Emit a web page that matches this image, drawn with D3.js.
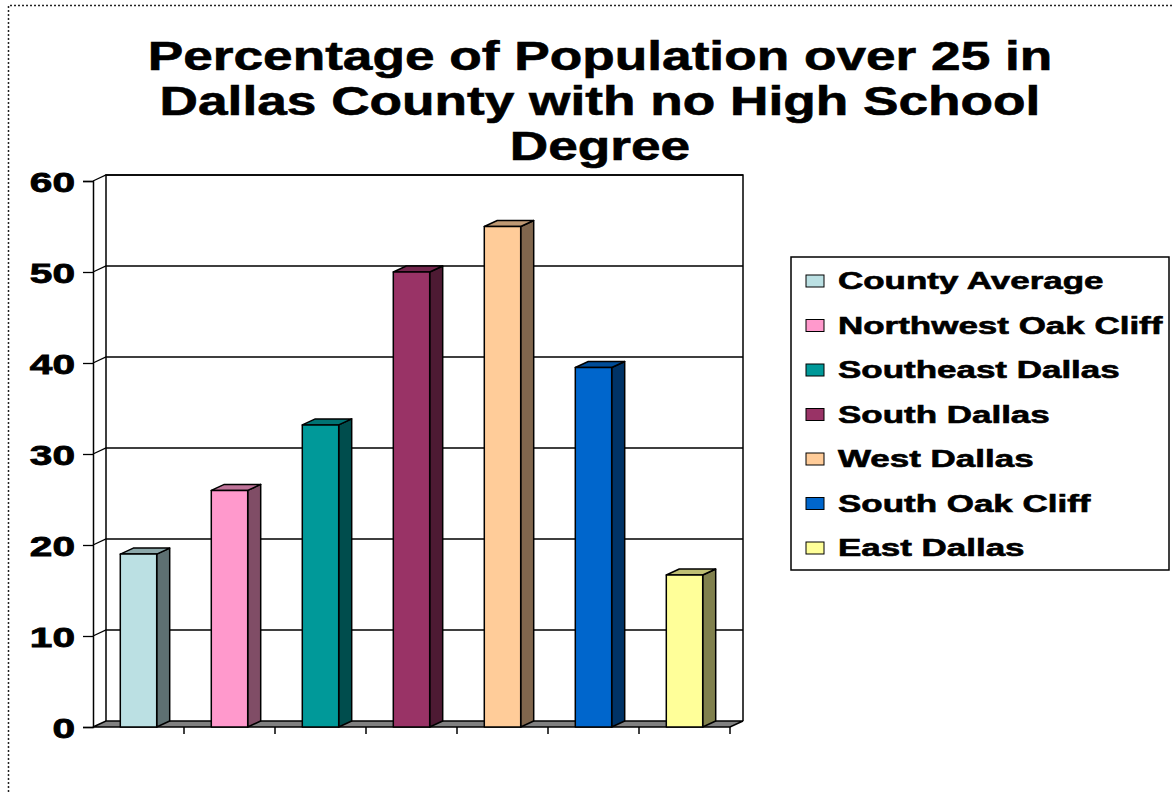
<!DOCTYPE html>
<html>
<head>
<meta charset="utf-8">
<script src="https://cdn.jsdelivr.net/npm/d3@7"></script>
<style>
  body { margin: 0; background: #fff; }
  svg text { font-family: "Liberation Sans", Arial, sans-serif; font-weight: bold; fill: #000; }
</style>
</head>
<body>
<div id="chart"></div>
<script>
// data
var categories = ["County Average", "Northwest Oak Cliff", "Southeast Dallas", "South Dallas",
                  "West Dallas", "South Oak Cliff", "East Dallas"];
var values = [19, 26, 33.2, 50, 55, 39.5, 16.7];
var colors = ["#BBE0E3", "#FF99CC", "#009999", "#993366", "#FFCC99", "#0066CC", "#FFFF99"];
var yTicks = [0, 10, 20, 30, 40, 50, 60];
var titleLines = ["Percentage of Population over 25 in", "Dallas County with no High School", "Degree"];

var width = 1173, height = 792;
var DX = 13, DY = -6;   // depth of the 3d effect

var svg = d3.select("#chart").append("svg")
    .attr("width", width)
    .attr("height", height);

// stretch text horizontally (original fonts are wide)
function stretch(sel, k) {
    sel.each(function() {
        var w = this.getComputedTextLength();
        d3.select(this).attr("textLength", w * k).attr("lengthAdjust", "spacingAndGlyphs");
    });
}

// dotted frame
svg.append("path")
    .attr("d", "M8.5," + height + "V5.5H" + width)
    .attr("fill", "none")
    .attr("stroke", "#222")
    .attr("stroke-width", 1.5)
    .attr("stroke-dasharray", "2,2");

// title
var title = svg.append("g").selectAll("text")
    .data(titleLines)
    .enter().append("text")
    .attr("x", 600)
    .attr("y", function(d, i) { return 70 + i * 45; })
    .attr("text-anchor", "middle")
    .style("font-size", "40px")
    .style("stroke", "#000")
    .style("stroke-width", 0.6)
    .text(function(d) { return d; });
stretch(title, 1.33);

// scales
var x = d3.scaleBand()
    .domain(categories)
    .range([93, 730])
    .paddingInner(0.6)
    .paddingOuter(0.3);

var y = d3.scaleLinear()
    .domain([0, 60])
    .range([727, 181]);

var x0 = x.range()[0], x1 = x.range()[1];
var g = svg.append("g");

// back wall gridlines + side wall diagonals
g.selectAll(".grid")
    .data(yTicks.slice(1))
    .enter().append("path")
    .attr("class", "grid")
    .attr("d", function(d) {
        return "M" + x0 + "," + y(d) + "L" + (x0 + DX) + "," + (y(d) + DY) + "H" + (x1 + DX);
    })
    .attr("fill", "none")
    .attr("stroke", "#000")
    .attr("stroke-width", 1.3);

// walls outline
g.append("path")
    .attr("d", "M" + (x0 + DX) + "," + (y(0) + DY) + "V" + (y(60) + DY) + "H" + (x1 + DX) + "V" + (y(0) + DY))
    .attr("fill", "none")
    .attr("stroke", "#000")
    .attr("stroke-width", 1.5);

// floor
g.append("path")
    .attr("d", "M" + x0 + "," + y(0) + "H" + x1 + "L" + (x1 + DX) + "," + (y(0) + DY) + "H" + (x0 + DX) + "Z")
    .attr("fill", "#808080")
    .attr("stroke", "#000")
    .attr("stroke-width", 1.5);

// y axis (front)
var yAxis = d3.axisLeft(y).tickValues(yTicks).tickSize(10).tickPadding(8);
var ya = g.append("g")
    .attr("transform", "translate(" + x0 + ",0)")
    .call(yAxis);
ya.select(".domain").attr("stroke-width", 1.5);
ya.selectAll(".tick line").attr("stroke-width", 1.3);
ya.selectAll(".tick text")
    .style("font-size", "28px")
    .style("stroke", "#000")
    .style("stroke-width", 0.8)
    .attr("font-family", null)
    .attr("dy", "0.36em")
    .attr("x", -18);
stretch(ya.selectAll(".tick text"), 1.45);

// x axis ticks at band edges (no labels)
var edges = categories.map(function(c) { return x(c) - x.step() * x.paddingInner() / 2 + x.step(); });
g.selectAll(".xtick")
    .data(edges)
    .enter().append("line")
    .attr("x1", function(d) { return d; })
    .attr("x2", function(d) { return d; })
    .attr("y1", y(0))
    .attr("y2", y(0) + 7)
    .attr("stroke", "#000")
    .attr("stroke-width", 1.5);

function shade(c, k) {
    var r = d3.rgb(c);
    return d3.rgb(r.r * k, r.g * k, r.b * k).toString();
}

// bars
var bars = g.selectAll(".bar")
    .data(values)
    .enter().append("g")
    .attr("class", "bar");

bars.append("path") // side
    .attr("d", function(d, i) {
        var bx = x(categories[i]) + x.bandwidth();
        return "M" + bx + "," + y(d) + "L" + (bx + DX) + "," + (y(d) + DY) +
               "V" + (y(0) + DY) + "L" + bx + "," + y(0) + "Z";
    })
    .attr("fill", function(d, i) { return shade(colors[i], 0.5); });

bars.append("path") // top
    .attr("d", function(d, i) {
        var bx = x(categories[i]), bw = x.bandwidth();
        return "M" + bx + "," + y(d) + "H" + (bx + bw) + "L" + (bx + bw + DX) + "," + (y(d) + DY) +
               "H" + (bx + DX) + "Z";
    })
    .attr("fill", function(d, i) { return shade(colors[i], 0.75); });

bars.append("rect") // front
    .attr("x", function(d, i) { return x(categories[i]); })
    .attr("y", function(d) { return y(d); })
    .attr("width", x.bandwidth())
    .attr("height", function(d) { return y(0) - y(d); })
    .attr("fill", function(d, i) { return colors[i]; });

bars.selectAll("path, rect")
    .attr("stroke", "#000")
    .attr("stroke-width", 1.5)
    .attr("stroke-linejoin", "round");

// legend
var legend = svg.append("g").attr("transform", "translate(791,257)");
legend.append("rect")
    .attr("width", 378)
    .attr("height", 313)
    .attr("fill", "#fff")
    .attr("stroke", "#000")
    .attr("stroke-width", 1.5);

var item = legend.selectAll(".item")
    .data(categories)
    .enter().append("g")
    .attr("class", "item")
    .attr("transform", function(d, i) { return "translate(0," + (24 + i * 44.5) + ")"; });

item.append("rect")
    .attr("x", 15)
    .attr("y", -6)
    .attr("width", 18)
    .attr("height", 12)
    .attr("fill", function(d, i) { return colors[i]; })
    .attr("stroke", "#000")
    .attr("stroke-width", 1);

var ltext = item.append("text")
    .attr("x", 47)
    .attr("dy", "0.36em")
    .style("font-size", "23px")
    .style("stroke", "#000")
    .style("stroke-width", 0.6)
    .text(function(d) { return d; });
stretch(ltext, 1.52);
</script>
</body>
</html>
